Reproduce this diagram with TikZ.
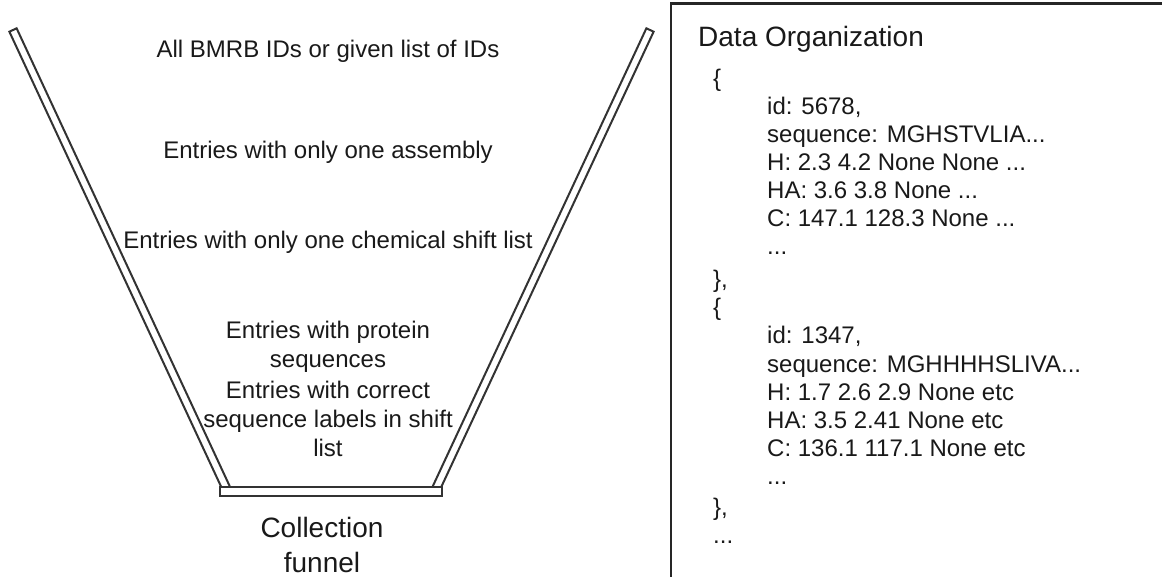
\documentclass[tikz,border=0pt]{standalone}
\usepackage{fontspec}
\setmainfont{Liberation Sans}
\usetikzlibrary{calc}
\begin{document}
\begin{tikzpicture}[x=1pt,y=-1pt,
  funtext/.style={font=\fontsize{24}{29}\selectfont, anchor=base, inner sep=0pt, text=black!90},
  codetext/.style={font=\fontsize{24}{29}\selectfont, anchor=base west, inner sep=0pt, text=black!90},
  bigtext/.style={font=\fontsize{28}{34}\selectfont, inner sep=0pt, text=black!90},
  wall/.style={draw=black!80, line width=2pt, fill=white, line join=miter},
  panel/.style={draw=black!85, line width=2.5pt}]
\clip (0,0) rectangle (1162,577);

% funnel walls: centre lines of the two slanted bars
\coordinate (lt) at (13,30);
\coordinate (lb) at (228,492);
\coordinate (rt) at (650,30);
\coordinate (rb) at (434.5,492);

\draw[wall] ($(lt)!4pt!90:(lb)$) -- ($(lb)!4pt!-90:(lt)$) -- ($(lb)!4pt!90:(lt)$) -- ($(lt)!4pt!-90:(lb)$) -- cycle;
\draw[wall] ($(rt)!4pt!90:(rb)$) -- ($(rb)!4pt!-90:(rt)$) -- ($(rb)!4pt!90:(rt)$) -- ($(rt)!4pt!-90:(rb)$) -- cycle;
% funnel floor
\draw[wall] (220,487) rectangle (442,496);

% filter stages
\node[funtext] (s1) at (328,57.6) {All BMRB IDs or given list of IDs};
\node[funtext] (s2) at (328,158.6) {Entries with only one assembly};
\node[funtext] (s3) at (328,248.6) {Entries with only one chemical shift list};
\node[funtext] (s4a) at (328,338.6) {Entries with protein};
\node[funtext] (s4b) at (328,367.6) {sequences};
\node[funtext] (s5a) at (328,398.6) {Entries with correct};
\node[funtext] (s5b) at (328,427.6) {sequence labels in shift};
\node[funtext] (s5c) at (328,456.6) {list};

\node[bigtext, anchor=base] (cap1) at (322,537) {Collection};
\node[bigtext, anchor=base] (cap2) at (322,572) {funnel};

% data organization panel
\draw[panel] (671,600) -- (671,3.5) -- (1180,3.5);
\node[bigtext, anchor=base west] (title) at (698,47) {Data Organization};

\node[codetext] (o1) at (713,87) {\{};
\node[codetext] (a1) at (767,115) {id: 5678,};
\node[codetext] (a2) at (767,143) {sequence: MGHSTVLIA...};
\node[codetext] (a3) at (767,171) {H: 2.3 4.2 None None ...};
\node[codetext] (a4) at (767,199) {HA: 3.6 3.8 None ...};
\node[codetext] (a5) at (767,227) {C: 147.1 128.3 None ...};
\node[codetext] (a6) at (767,255) {...};
\node[codetext] (c1) at (713,288) {\},};

\node[codetext] (o2) at (713,316) {\{};
\node[codetext] (b1) at (767,344) {id: 1347,};
\node[codetext] (b2) at (767,372) {sequence: MGHHHHSLIVA...};
\node[codetext] (b3) at (767,400) {H: 1.7 2.6 2.9 None etc};
\node[codetext] (b4) at (767,428) {HA: 3.5 2.41 None etc};
\node[codetext] (b5) at (767,456) {C: 136.1 117.1 None etc};
\node[codetext] (b6) at (767,484) {...};
\node[codetext] (c2) at (713,515) {\},};
\node[codetext] (more) at (713,543) {...};
\end{tikzpicture}
\end{document}
